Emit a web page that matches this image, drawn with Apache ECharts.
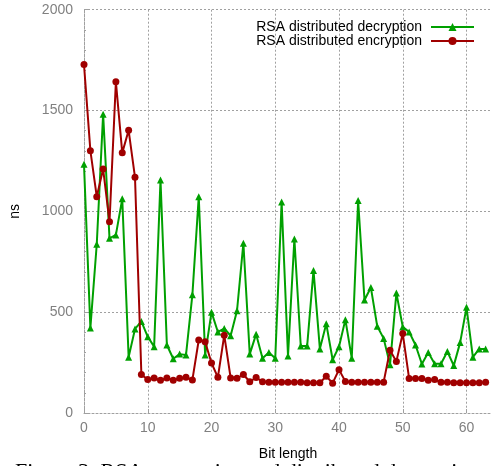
<!DOCTYPE html>
<html>
<head>
<meta charset="utf-8">
<script src="https://cdn.jsdelivr.net/npm/echarts@6/dist/echarts.min.js"></script>
<style>html,body{margin:0;padding:0;background:#fff;}#c{width:492px;height:466px;}</style>
</head>
<body>
<div id="c"></div>
<script>
const bitLength = [];
for (let i = 0; i <= 63; i++) bitLength.push(i);
const decryption = [1233,422,837,1482,866,883,1062,277,417,454,378,329,1155,337,269,292,288,586,1073,288,
  500,402,419,383,507,842,292,391,272,300,272,1046,283,863,332,332,707,318,443,264,
  329,463,272,1054,560,622,430,370,239,595,427,402,337,243,300,244,244,305,235,349,
  524,277,318,318];
const encryption = [1728,1301,1073,1210,948,1643,1290,1402,1169,191,166,174,163,174,163,172,177,164,362,353,
  248,177,386,174,172,191,155,176,155,153,153,153,153,153,153,150,150,150,182,148,
  215,156,153,153,153,153,153,153,311,256,394,171,171,171,163,166,153,153,150,150,
  150,150,150,153];
const xTicks = [0,10,20,30,40,50,60];
const yTicks = [0,500,1000,1500,2000];

const chart = echarts.init(document.getElementById('c'), null, {renderer:'canvas'});
const gridColor = '#a0a0a0';
const dotted = {color: gridColor, type: [2,2], width: 1};
chart.setOption({
  animation: false,
  backgroundColor: '#fff',
  grid: {left: 84, top: 9.7, width: 409.6, height: 409.3},
  legend: {
    orient: 'vertical', right: 12, top: 15, align: 'right',
    itemWidth: 43, itemHeight: 10, itemGap: 0,
    textStyle: {fontFamily: 'Liberation Sans, Arial', fontSize: 14, lineHeight: 14, color: '#000', padding: [0,4,0,0]},
    data: ['RSA distributed decryption', 'RSA distributed encryption']
  },
  xAxis: {
    type: 'value', min: 0, max: 64, interval: 10,
    name: 'Bit length', nameLocation: 'middle', nameGap: 34,
    nameTextStyle: {fontFamily: 'Liberation Sans, Arial', fontSize: 14, color: '#000'},
    axisLine: {show: true, lineStyle: dotted},
    axisTick: {show: true, inside: true, length: 4, lineStyle: {color: gridColor}},
    axisLabel: {color: '#808080', fontFamily: 'Liberation Sans, Arial', fontSize: 14, margin: 8,
      showMaxLabel: false,
      formatter: v => xTicks.indexOf(v) >= 0 ? String(v) : ''},
    splitLine: {show: true, lineStyle: dotted}
  },
  yAxis: {
    type: 'value', min: 0, max: 2000, interval: 500,
    name: 'ns', nameLocation: 'middle', nameGap: 62, nameRotate: 90,
    nameTextStyle: {fontFamily: 'Liberation Sans, Arial', fontSize: 14, color: '#000'},
    axisLine: {show: true, lineStyle: dotted},
    axisTick: {show: true, inside: true, length: 4, lineStyle: {color: gridColor}},
    minorTick: {show: true, splitNumber: 5, length: 2, lineStyle: {color: gridColor}},
    axisLabel: {color: '#808080', fontFamily: 'Liberation Sans, Arial', fontSize: 14, margin: 11,
      formatter: v => yTicks.indexOf(v) >= 0 ? String(v) : ''},
    splitLine: {show: true, lineStyle: dotted}
  },
  graphic: [{
    type: 'text', left: 15, top: 461.5,
    style: {text: 'Figure 3: RSA encryption and distributed decryption', fontFamily: 'Liberation Serif, Times New Roman', fontSize: 22, fill: '#000'}
  }],
  series: [
    {
      name: 'RSA distributed decryption', type: 'line',
      data: bitLength.map((x, i) => [x, decryption[i]]),
      symbol: 'triangle', symbolSize: 7,
      lineStyle: {color: '#00a000', width: 2},
      itemStyle: {color: '#00a000'}, z: 2
    },
    {
      name: 'RSA distributed encryption', type: 'line',
      data: bitLength.map((x, i) => [x, encryption[i]]),
      symbol: 'circle', symbolSize: 7,
      lineStyle: {color: '#a00000', width: 2},
      itemStyle: {color: '#a00000'}, z: 3
    }
  ]
});
</script>
</body>
</html>
